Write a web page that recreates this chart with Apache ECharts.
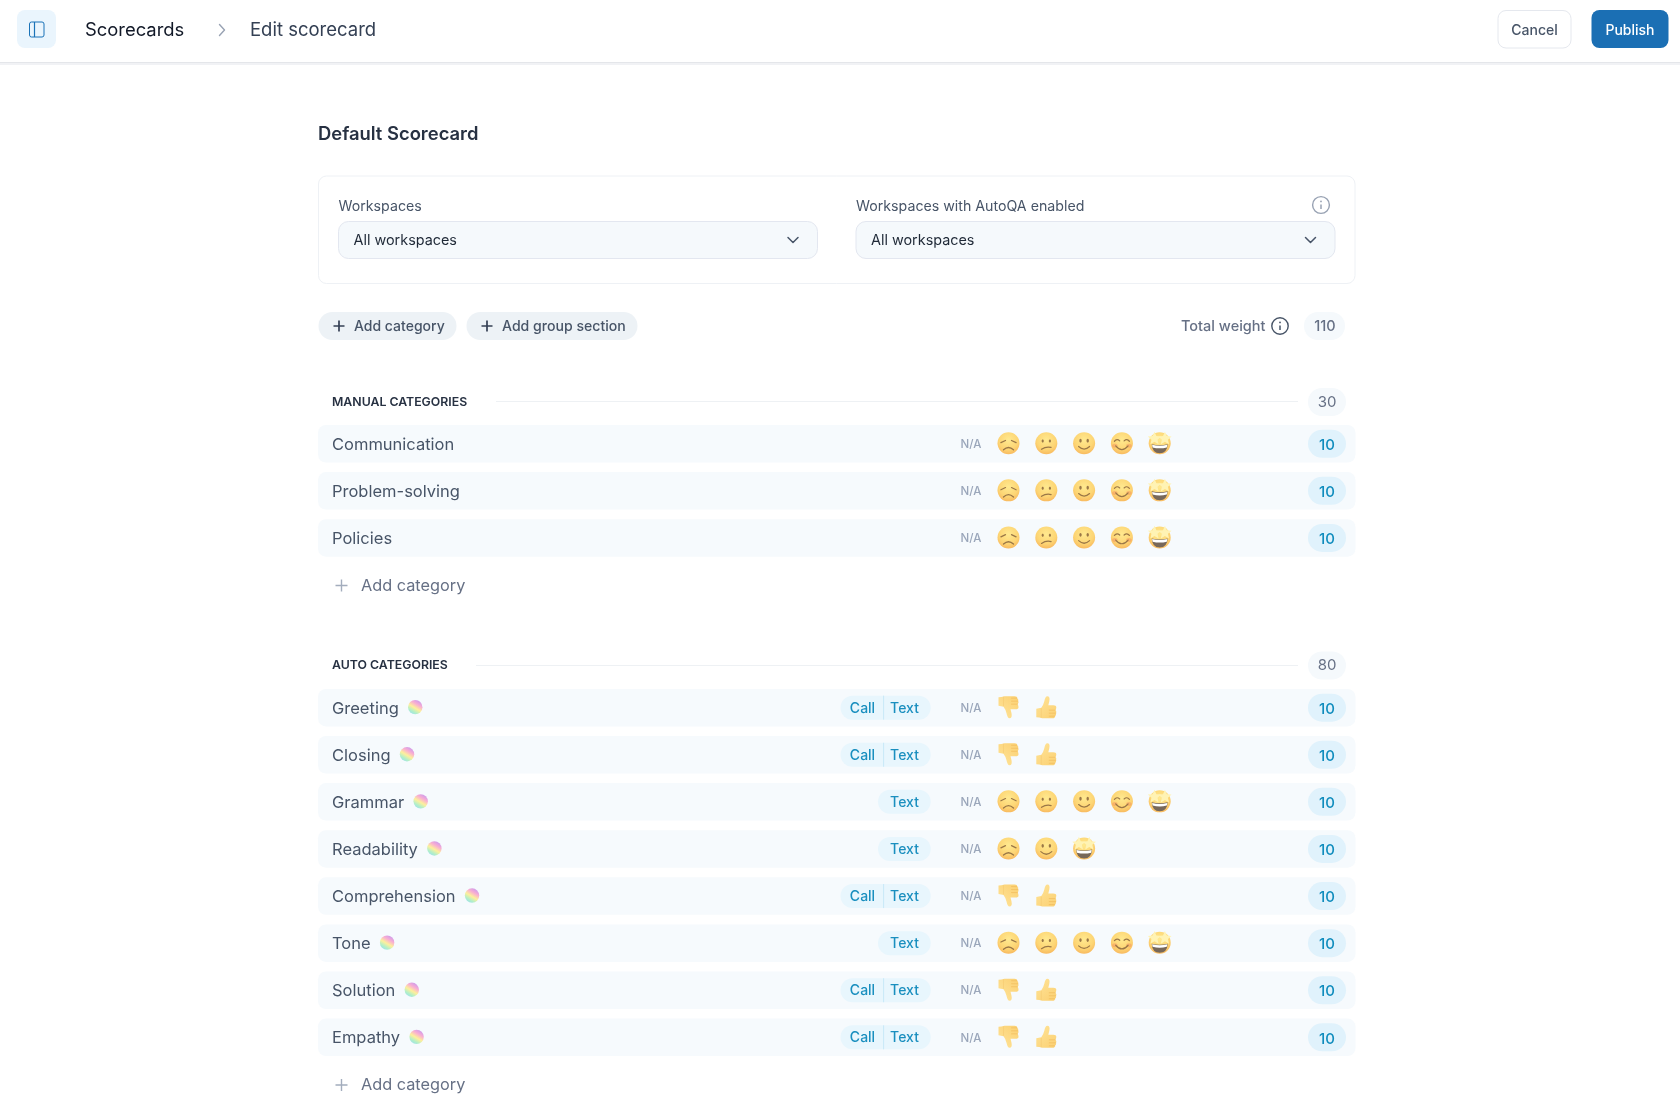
<!DOCTYPE html>
<html><head><meta charset="utf-8">
<style>html,body{margin:0;padding:0;background:#fff}#c{width:1680px;height:1118px}</style>
<script src="https://cdn.jsdelivr.net/npm/echarts@6/dist/echarts.min.js"></script>
</head><body><div id="c"></div>
<script>
// ---------- data ----------
const manualCategories = ['Communication', 'Problem-solving', 'Policies'];
const manualScales = ['five', 'five', 'five'];
const manualChannels = [[], [], []];
const manualWeights = [10, 10, 10];
const autoCategories = ['Greeting', 'Closing', 'Grammar', 'Readability', 'Comprehension', 'Tone', 'Solution', 'Empathy'];
const autoScales = ['thumbs', 'thumbs', 'five', 'three', 'thumbs', 'five', 'thumbs', 'thumbs'];
const autoChannels = [['Call', 'Text'], ['Call', 'Text'], ['Text'], ['Text'], ['Call', 'Text'], ['Text'], ['Call', 'Text'], ['Call', 'Text']];
const autoWeights = [10, 10, 10, 10, 10, 10, 10, 10];
const sectionTotals = [30, 80];
const sectionTitles = ['MANUAL CATEGORIES', 'AUTO CATEGORIES'];
const totalWeight = 110;
const scaleGlyphs = { five: ['sad', 'confused', 'smile', 'relaxed', 'star'], three: ['sad', 'smile', 'star'], thumbs: ['down', 'up'] };

// ---------- layout & style constants ----------
const FF = 'Inter, "Noto Sans", sans-serif';
const ROW_L = 318, ROW_R = 1355.5, ROW_H = 37.5, PITCH = 47.1;
const MANUAL_TOP = 425, AUTO_TOP = 688.9;
const GLYPH_X0 = 1008.5, GLYPH_DX = 37.8;
const measure = document.createElement('canvas').getContext('2d');
function textWidth(t, font) { measure.font = font; return measure.measureText(t).width; }

// tiny path shape so glyph outlines can be drawn without being rescaled
echarts.graphic.registerShape('glyph', echarts.graphic.extendShape({
  shape: { d: '' },
  buildPath(ctx, shape) {
    const t = shape.d.match(/[MLQCZ]|-?[\d.]+/g) || [];
    let i = 0;
    const n = () => parseFloat(t[i++]);
    while (i < t.length) {
      const c = t[i++];
      if (c === 'M') ctx.moveTo(n(), n());
      else if (c === 'L') ctx.lineTo(n(), n());
      else if (c === 'Q') ctx.quadraticCurveTo(n(), n(), n(), n());
      else if (c === 'C') ctx.bezierCurveTo(n(), n(), n(), n(), n(), n());
      else if (c === 'Z') ctx.closePath();
    }
  }
}));
const G = echarts.graphic;
const stroke = (d, color, w) => ({ type: 'glyph', shape: { d }, style: { fill: null, stroke: color, lineWidth: w || 1.2, lineCap: 'round', lineJoin: 'round' } });
const fill = (d, color) => ({ type: 'glyph', shape: { d }, style: { fill: color } });
const oval = (cx, cy, rx, ry, color) => ({ type: 'ellipse', shape: { cx, cy, rx, ry }, style: { fill: color } });
function starPath(cx, cy, R, r) {
  let d = '';
  for (let k = 0; k < 10; k++) {
    const a = -Math.PI / 2 + k * Math.PI / 5, q = k % 2 ? r : R;
    d += (k ? 'L' : 'M') + (cx + q * Math.cos(a)).toFixed(2) + ' ' + (cy + q * Math.sin(a)).toFixed(2) + ' ';
  }
  return d + 'Z';
}
const INK = '#9a7747';
function faceBase() {
  return {
    type: 'circle', shape: { cx: 0, cy: 0, r: 11 },
    style: { fill: new G.RadialGradient(0.5, 0.35, 0.72, [
      { offset: 0, color: '#ffe98f' }, { offset: 0.6, color: '#fdd574' }, { offset: 1, color: '#f7b259' }]) }
  };
}
const THUMB = 'M-10 1.5 L-5 0.5 Q-3 -2 -2 -6 Q-1 -11 1 -11 Q4 -11 3 -6 L2 -2 L7 -2 Q10 -2 10 0 Q10 2 9 3 Q11 4.5 9.5 6 Q10.5 8 8.5 9 Q9 11 6 11 L-4 11 Q-7 10 -10 10 Z';
function glyph(kind, x, y) {
  let children = [];
  let extra = {};
  if (kind === 'up' || kind === 'down') {
    children = [
      fill(THUMB, new G.LinearGradient(0, 0, 1, 1, [{ offset: 0, color: '#ffe499' }, { offset: 1, color: '#fbd072' }])),
      stroke('M3 3 L9 3 M3 6 L9.5 6 M3 9 L8.5 9', '#f3bf60', 0.8),
      stroke('M-5 1.5 L-5 10', '#f6cc72', 0.7)
    ];
    if (kind === 'down') extra = { scaleY: -1 };
  } else {
    children = [faceBase()];
    if (kind === 'sad') children.push(
      stroke('M-7.6 -0.6 L-3 -2.8', INK), stroke('M7.6 -0.6 L3 -2.8', INK), stroke('M-5 6.6 Q0 2 5 6.6', INK, 1.3));
    if (kind === 'confused') children.push(
      oval(-3.6, -2.2, 1.1, 1.5, INK), oval(3.6, -2.2, 1.1, 1.5, INK), stroke('M-4.8 6 Q0 2.8 4.8 4.2', INK, 1.2));
    if (kind === 'smile') children.push(
      oval(-3.6, -2.6, 1.2, 1.9, INK), oval(3.6, -2.6, 1.2, 1.9, INK), stroke('M-5.5 3.2 Q0 8.4 5.5 3.2', INK, 1.2));
    if (kind === 'relaxed') children.push(
      oval(-7, 2.6, 2.8, 2, 'rgba(242,120,90,0.35)'), oval(7, 2.6, 2.8, 2, 'rgba(242,120,90,0.35)'),
      stroke('M-7.5 -2 Q-5 -5 -2.2 -2.4', INK), stroke('M7.5 -2 Q5 -5 2.2 -2.4', INK), stroke('M-6.2 2.6 Q0 10 6.2 2.6', INK, 1.2));
    if (kind === 'star') children.push(
      fill('M-8 1 Q0 3 8 1 Q7.5 10 0 10 Q-7.5 10 -8 1 Z', '#77685a'),
      fill('M-7.6 1.6 Q0 3.6 7.6 1.6 L7.1 4.2 Q0 6 -7.1 4.2 Z', '#ffffff'),
      fill(starPath(-5.2, -4.6, 7, 3.2), '#fff3b4'), fill(starPath(5.2, -4.6, 7, 3.2), '#fff3b4'));
  }
  return Object.assign({ type: 'group', x, y, children }, extra);
}

function rainbowDot(cx, cy) {
  return { type: 'circle', shape: { cx, cy, r: 7.2 }, style: { fill: new G.LinearGradient(0.8, 0, 0.2, 1, [
    { offset: 0, color: '#c597f0' }, { offset: 0.3, color: '#f9aed2' }, { offset: 0.55, color: '#fdf09c' },
    { offset: 0.78, color: '#b3efc8' }, { offset: 1, color: '#9adff0' }]) } };
}
function T(text, x, y, size, color, weight, align) {
  return { type: 'text', style: { text, x, y, fill: color, align: align || 'left', verticalAlign: 'middle',
    font: (weight || 400) + ' ' + size + 'px ' + FF } };
}
function R(x, y, w, h, r, fillC, strokeC) {
  return { type: 'rect', shape: { x, y, width: w, height: h, r }, style: { fill: fillC, stroke: strokeC || null, lineWidth: strokeC ? 1 : 0 } };
}

function rowSeries(names, scales, channels, weights, top) {
  return {
    type: 'custom', coordinateSystem: 'cartesian2d', animation: false, silent: true,
    encode: { x: 0, y: 1 },
    data: names.map((_, i) => [ROW_L, top + i * PITCH]),
    renderItem(params, api) {
      const i = params.dataIndex;
      const p = api.coord([api.value(0), api.value(1)]);
      const cy = p[1] + ROW_H / 2;
      const kids = [R(ROW_L, p[1], ROW_R - ROW_L, ROW_H, 8, '#f6fafd')];
      const nameFont = '400 16.5px ' + FF;
      kids.push(T(names[i], 332, cy + 1.1, 16.5, '#475467'));
      if (channels[i].length) {
        kids.push(rainbowDot(332 + textWidth(names[i], nameFont) + 16.5, cy - 0.5));
        const two = channels[i].length === 2;
        const L = two ? 840.5 : 878;
        kids.push(R(L, cy - 12, 930.7 - L, 24, 12, '#e8f6fd'));
        if (two) {
          kids.push({ type: 'line', shape: { x1: 883.6, y1: cy - 12, x2: 883.6, y2: cy + 12 }, style: { stroke: '#c8e8f8', lineWidth: 1 } });
          kids.push(T('Call', 862.5, cy + 0.7, 14, '#1a8fbf', 500, 'center'));
        }
        kids.push(T('Text', 904.5, cy + 0.7, 14, '#1a8fbf', 500, 'center'));
      }
      kids.push(T('N/A', 971, cy + 0.7, 11.5, '#9aa6ba', 500, 'center'));
      scaleGlyphs[scales[i]].forEach((g, k) => kids.push(glyph(g, GLYPH_X0 + k * GLYPH_DX, cy - 0.5)));
      kids.push(R(1308, cy - 14, 38, 28, 14, '#e0f2fc'));
      kids.push(T(String(weights[i]), 1327, cy + 1.7, 15, '#0f8cbd', 500, 'center'));
      return { type: 'group', children: kids };
    }
  };
}

// ---------- static page parts ----------
function plusIcon(cx, cy, s, color, w) {
  return { type: 'glyph', shape: { d: `M${cx - s} ${cy} L${cx + s} ${cy} M${cx} ${cy - s} L${cx} ${cy + s}` }, style: { fill: null, stroke: color, lineWidth: w } };
}
function chevron(cx, cy, color) {
  return { type: 'glyph', shape: { d: `M${cx - 5} ${cy - 2.5} L${cx} ${cy + 2.5} L${cx + 5} ${cy - 2.5}` }, style: { fill: null, stroke: color, lineWidth: 1.5, lineCap: 'round', lineJoin: 'round' } };
}
function infoIcon(cx, cy, r, color) {
  return [
    { type: 'circle', shape: { cx, cy, r }, style: { fill: null, stroke: color, lineWidth: 1.4 } },
    { type: 'line', shape: { x1: cx, y1: cy - 0.5, x2: cx, y2: cy + 4 }, style: { stroke: color, lineWidth: 1.5 } },
    { type: 'circle', shape: { cx, cy: cy - 3.6, r: 0.9 }, style: { fill: color } }
  ];
}
function selectBox(x, w, label) {
  return [
    T(label, x, 207, 14.2, '#475467'),
    R(x, 221.5, w, 37, 10, '#f5f9fc', '#e3e7f0'),
    T('All workspaces', x + 15, 240.8, 14.4, '#1f2937', 400),
    chevron(x + w - 24.5, 240, '#475467')
  ];
}
const chrome = [
  { type: 'rect', shape: { x: 0, y: 62, width: 1680, height: 1.5 }, style: { fill: '#e4e6ea' } },
  { type: 'rect', shape: { x: 0, y: 63.5, width: 1680, height: 1.5 }, style: { fill: '#f1f2f5' } },
  R(17, 10, 39, 38, 8, '#eaf5fd'),
  R(29.5, 22, 14.5, 15, 2, null, '#1a73b8'),
  { type: 'line', shape: { x1: 34.5, y1: 22, x2: 34.5, y2: 37 }, style: { stroke: '#1a73b8', lineWidth: 1.2 } },
  T('Scorecards', 85, 30.5, 18.4, '#111827', 400),
  { type: 'glyph', shape: { d: 'M219.5 24.5 L224.5 30 L219.5 35.5' }, style: { fill: null, stroke: '#98a2b3', lineWidth: 1.4, lineCap: 'round', lineJoin: 'round' } },
  T('Edit scorecard', 250, 30.5, 18.5, '#344054', 400),
  R(1498, 10.5, 73, 37.5, 8, '#ffffff', '#e5e8ee'),
  T('Cancel', 1534.5, 30.5, 14, '#475467', 500, 'center'),
  R(1591.5, 10, 77, 38, 8, '#1b6fb4'),
  T('Publish', 1630, 30.5, 14, '#ffffff', 500, 'center'),
  T('Default Scorecard', 318, 134.5, 18.4, '#273142', 600),
  R(318.5, 176, 1036.5, 107.5, 8, '#ffffff', '#eef1f5'),
  ...selectBox(338.5, 479, 'Workspaces'),
  ...selectBox(856, 479, 'Workspaces with AutoQA enabled'),
  ...infoIcon(1321, 205, 8.4, '#98a2b3'),
  R(318.5, 312, 138, 28, 14, '#edf2f6'),
  plusIcon(339, 326, 5.5, '#344054', 1.7),
  T('Add category', 354, 326.5, 14, '#475467', 500),
  R(466.5, 312, 171, 28, 14, '#edf2f6'),
  plusIcon(487, 326, 5.5, '#344054', 1.7),
  T('Add group section', 502, 326.5, 14.1, '#475467', 500),
  T('Total weight', 1181, 326.5, 14.5, '#667085', 500),
  ...infoIcon(1280, 326, 8.2, '#475467'),
  R(1304, 312, 41, 28, 14, '#f5f9fc'),
  T(String(totalWeight), 1325, 326.5, 14.5, '#667085', 500, 'center'),
  T(sectionTitles[0], 332, 402, 12.3, '#273142', 600),
  { type: 'line', shape: { x1: 496, y1: 401.5, x2: 1298, y2: 401.5 }, style: { stroke: '#eef1f4', lineWidth: 1 } },
  R(1308, 388, 38, 28, 14, '#f5f9fc'),
  T(String(sectionTotals[0]), 1327, 402, 15, '#667085', 400, 'center'),
  plusIcon(341.5, 585.5, 6, '#a3adbd', 1.4),
  T('Add category', 361, 586, 16.3, '#667085', 400),
  T(sectionTitles[1], 332, 665.8, 12.3, '#273142', 600),
  { type: 'line', shape: { x1: 476, y1: 665.5, x2: 1298, y2: 665.5 }, style: { stroke: '#eef1f4', lineWidth: 1 } },
  R(1308, 651.5, 38, 28, 14, '#f5f9fc'),
  T(String(sectionTotals[1]), 1327, 665.7, 15, '#667085', 400, 'center'),
  plusIcon(341.5, 1085, 6, '#a3adbd', 1.4),
  T('Add category', 361, 1085.5, 16.3, '#667085', 400)
];

const chart = echarts.init(document.getElementById('c'), null, { renderer: 'canvas' });
chart.setOption({
  animation: false,
  backgroundColor: '#ffffff',
  grid: { left: 0, right: 0, top: 0, bottom: 0 },
  xAxis: { type: 'value', min: 0, max: 1680, show: false },
  yAxis: { type: 'value', min: 0, max: 1118, inverse: true, show: false },
  graphic: { elements: chrome.map(e => Object.assign({ silent: true }, e)) },
  series: [
    rowSeries(manualCategories, manualScales, manualChannels, manualWeights, MANUAL_TOP),
    rowSeries(autoCategories, autoScales, autoChannels, autoWeights, AUTO_TOP)
  ]
});
</script></body></html>
